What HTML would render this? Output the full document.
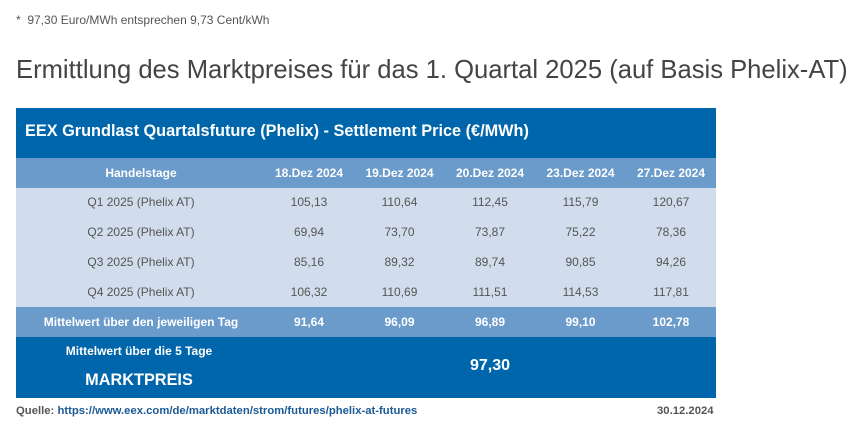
<!DOCTYPE html>
<html><head><meta charset="utf-8"><style>
body{margin:0;width:868px;height:430px;background:#fff;font-family:"Liberation Sans",Arial,sans-serif;position:relative;overflow:hidden}
.a{position:absolute;white-space:nowrap}
.c{position:absolute;text-align:center;white-space:nowrap}
</style></head><body>
<div class="a" style="left:16px;top:13px;font-size:12px;color:#555">*&nbsp; 97,30 Euro/MWh entsprechen 9,73 Cent/kWh</div>
<div class="a" style="left:16px;top:56px;font-size:25.6px;color:#444">Ermittlung des Marktpreises für das 1. Quartal 2025 (auf Basis Phelix-AT)</div>
<div id="tbl" style="position:absolute;left:16px;top:108px;width:700px;height:290px">
<div class="a" style="left:0;top:0;width:700px;height:50px;background:#0066ab"></div>
<div class="a" style="left:9px;top:14px;font-size:16.3px;font-weight:bold;color:#fff">EEX Grundlast Quartalsfuture (Phelix) - Settlement Price (€/MWh)</div>
<div class="a" style="left:0;top:50px;width:700px;height:30px;background:#6b9bcb"></div>
<div class="a" style="left:0;top:80px;width:700px;height:119px;background:#d1ddec"></div>
<div class="a" style="left:0;top:199px;width:700px;height:30px;background:#6b9bcb"></div>
<div class="a" style="left:0;top:229px;width:700px;height:61px;background:#0066ab"></div>
</div>
<div class="a" style="left:16px;top:405px;font-size:11.3px;font-weight:bold;color:#555">Quelle: <span style="color:#1a5a96">https://www.eex.com/de/marktdaten/strom/futures/phelix-at-futures</span></div>
<div class="a" style="left:657px;top:405px;font-size:11.3px;font-weight:bold;color:#555">30.12.2024</div>
<script>
const dates=["18.Dez 2024","19.Dez 2024","20.Dez 2024","23.Dez 2024","27.Dez 2024"];
const products=["Q1 2025 (Phelix AT)","Q2 2025 (Phelix AT)","Q3 2025 (Phelix AT)","Q4 2025 (Phelix AT)"];
const q1=["105,13","110,64","112,45","115,79","120,67"];
const q2=["69,94","73,70","73,87","75,22","78,36"];
const q3=["85,16","89,32","89,74","90,85","94,26"];
const q4=["106,32","110,69","111,51","114,53","117,81"];
const means=["91,64","96,09","96,89","99,10","102,78"];
const marketPrice="97,30";
const rows=[q1,q2,q3,q4];
const T=document.getElementById('tbl');
function cell(txt,cx,top,w,style,name){
 const d=document.createElement('div');d.className='c';
 
 
 d.style.cssText=`left:${cx-w/2}px;top:${top}px;width:${w}px;`+style;
 d.textContent=txt;T.appendChild(d);
}
const colX=i=>293+i*90.5, labX=125;
cell("Handelstage",labX,58,240,"font-size:12px;font-weight:bold;color:#fff","header-handelstage");
dates.forEach((d,i)=>cell(d,colX(i),58,90,"font-size:12px;font-weight:bold;color:#fff","header-date"));
rows.forEach((r,j)=>{
 const top=87+j*30;
 cell(products[j],labX,top,240,"font-size:12px;color:#555","product-label");
 r.forEach((v,i)=>cell(v,colX(i),top,90,"font-size:12px;color:#555","price-cell"));
});
cell("Mittelwert über den jeweiligen Tag",labX,207,240,"font-size:12px;font-weight:bold;color:#fff","mean-label");
means.forEach((v,i)=>cell(v,colX(i),207,90,"font-size:12px;font-weight:bold;color:#fff","mean-cell"));
cell("Mittelwert über die 5 Tage",123,236,240,"font-size:12px;font-weight:bold;color:#fff","five-day-label");
cell("MARKTPREIS",123,263,240,"font-size:16.3px;font-weight:bold;color:#fff","market-price-label");
cell(marketPrice,colX(2),249,90,"font-size:16px;font-weight:bold;color:#fff","market-price-value");
</script>
</body></html>
